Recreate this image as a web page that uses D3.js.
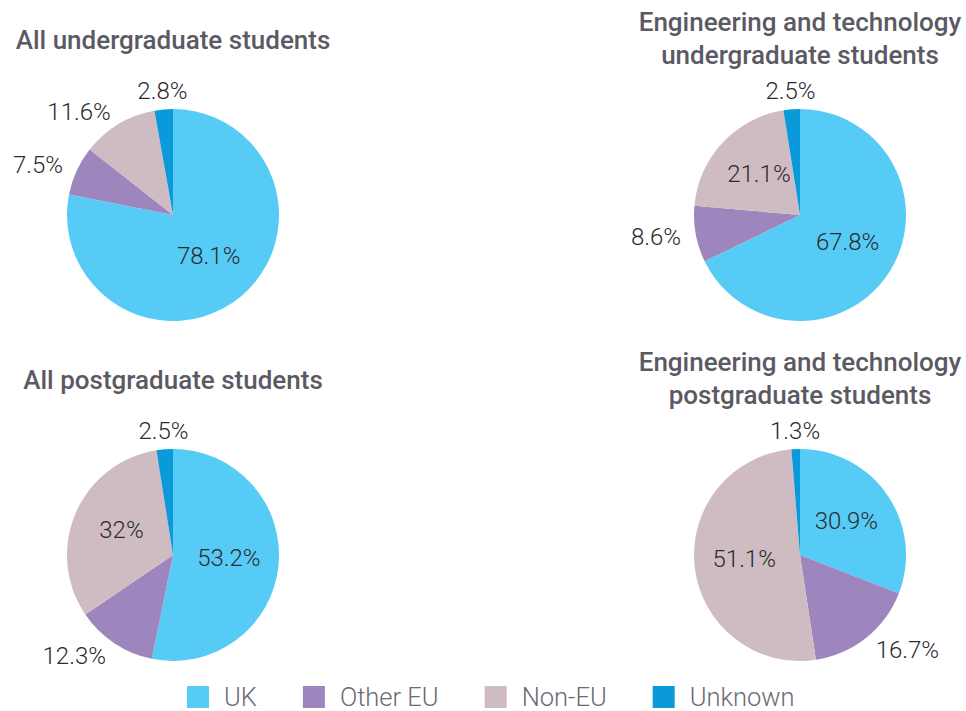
<!DOCTYPE html>
<html>
<head>
<meta charset="utf-8">
<script src="https://cdn.jsdelivr.net/npm/d3@7"></script>
<style>
  body { margin: 0; background: #fff; }
  svg text { font-family: Roboto, "Open Sans", sans-serif; }
</style>
</head>
<body>
<div id="chart"></div>
<script>
// categories and colours, in clockwise order from 12 o'clock
var categories = ["UK", "Other EU", "Non-EU", "Unknown"];
var colours = ["#56cbf5", "#9d85be", "#cebcc2", "#0a9ada"];

// one list of values per pie, same order as categories
var allUndergrad = [78.1, 7.5, 11.6, 2.8];
var engUndergrad = [67.8, 8.6, 21.1, 2.5];
var allPostgrad = [53.2, 12.3, 32, 2.5];
var engPostgrad = [30.9, 16.7, 51.1, 1.3];

var pieTitles = [
  ["All undergraduate students"],
  ["Engineering and technology", "undergraduate students"],
  ["All postgraduate students"],
  ["Engineering and technology", "postgraduate students"]
];
var pieValues = [allUndergrad, engUndergrad, allPostgrad, engPostgrad];

var width = 966, height = 711;
var radius = 106;

var svg = d3.select("#chart")
  .append("svg")
    .attr("width", width)
    .attr("height", height);

// grid of pie centres
var col = d3.scaleOrdinal().domain([0, 1]).range([173, 800]);
var row = d3.scaleOrdinal().domain([0, 1]).range([215, 555]);

var pie = d3.pie().sort(null).value(function(d) { return d; });
var arc = d3.arc().innerRadius(0).outerRadius(radius);

pieValues.forEach(function(values, i) {
  var cx = col(i % 2), cy = row(Math.floor(i / 2));
  var g = svg.append("g")
    .attr("transform", "translate(" + cx + "," + cy + ")");

  // title, centred over the pie
  var lines = pieTitles[i];
  var firstY = lines.length == 1 ? -166 : -184;
  g.selectAll(".title")
    .data(lines)
    .enter()
    .append("text")
      .attr("class", "title")
      .attr("x", 0)
      .attr("y", function(d, j) { return firstY + j * 33; })
      .attr("text-anchor", "middle")
      .style("font-size", "26px")
      .style("font-weight", 500)
      .style("fill", "#5b5a64")
      .text(function(d) { return d; });

  var arcs = pie(values);

  g.selectAll("path")
    .data(arcs)
    .enter()
    .append("path")
      .attr("d", arc)
      .attr("fill", function(d, j) { return colours[j]; });

  // labels: big slices inside, small slices outside
  g.selectAll(".lbl")
    .data(arcs)
    .enter()
    .append("text")
      .attr("class", "lbl")
      .each(function(d) {
        var a = (d.startAngle + d.endAngle) / 2;
        var sx = Math.sin(a), sy = -Math.cos(a);
        var el = d3.select(this);
        if (d.value >= 20) {
          var r = radius * 0.53;
          el.attr("x", sx * r).attr("y", sy * r - 3).attr("text-anchor", "middle");
        } else {
          var r2 = radius + 15;
          var anchor = Math.abs(sx) < 0.3 ? "middle" : (sx < 0 ? "end" : "start");
          el.attr("x", sx * r2).attr("y", sy * r2 + (Math.abs(sx) < 0.3 ? -4 : 0))
            .attr("text-anchor", anchor);
        }
      })
      .attr("dy", "0.35em")
      .style("font-size", "24px")
      .style("font-weight", 300)
      .style("fill", "#2b2b2e")
      .text(function(d) { return d.value + "%"; });
});

// legend along the bottom
var legend = svg.append("g").attr("transform", "translate(187,697)");
var xPos = 0;
categories.forEach(function(c, i) {
  var item = legend.append("g").attr("transform", "translate(" + xPos + ",0)");
  item.append("rect")
    .attr("x", 0).attr("y", -11)
    .attr("width", 22).attr("height", 22)
    .attr("fill", colours[i]);
  var t = item.append("text")
    .attr("x", 37)
    .attr("dy", "0.35em")
    .style("font-size", "25.5px")
    .style("font-weight", 300)
    .style("fill", "#6b6a74")
    .text(c);
  xPos += 37 + t.node().getComputedTextLength() + 46;
});
</script>
</body>
</html>
